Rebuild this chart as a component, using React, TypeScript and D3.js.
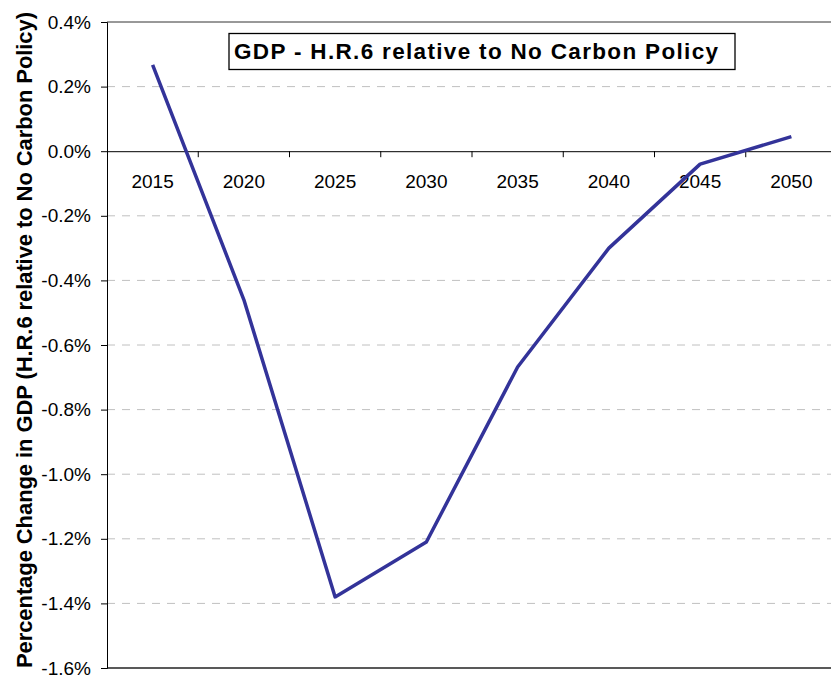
import React, { useEffect, useRef } from 'react';
import * as d3 from 'd3';

const years = ['2015', '2020', '2025', '2030', '2035', '2040', '2045', '2050'];
const gdpChange = [0.267, -0.46, -1.38, -1.21, -0.668, -0.3, -0.04, 0.045];
const yTicks = [0.4, 0.2, 0, -0.2, -0.4, -0.6, -0.8, -1.0, -1.2, -1.4, -1.6];

const W = 831;
const H = 676;
const margin = { top: 22, right: -6, bottom: 8, left: 107 };
const FONT = 'Arial, "Liberation Sans", sans-serif';

const App = () => {
  const ref = useRef<SVGSVGElement>(null);

  useEffect(() => {
    const svg = d3.select(ref.current);
    svg.selectAll('*').remove();

    const x = d3
      .scaleBand<string>()
      .domain(years)
      .range([margin.left, W - margin.right]);
    const y = d3
      .scaleLinear()
      .domain([-1.6, 0.4])
      .range([H - margin.bottom, margin.top]);

    svg.append('rect').attr('width', W).attr('height', H).attr('fill', '#fff');

    // dashed gridlines
    svg
      .append('g')
      .selectAll('line')
      .data(yTicks.filter((d) => d !== 0 && d !== 0.4 && d !== -1.6))
      .enter()
      .append('line')
      .attr('x1', margin.left)
      .attr('x2', W - margin.right)
      .attr('y1', (d) => y(d))
      .attr('y2', (d) => y(d))
      .attr('stroke', '#c0c0c0')
      .attr('stroke-width', 1)
      .attr('stroke-dasharray', '8,7');

    // top and bottom of the plot frame
    svg
      .append('line')
      .attr('x1', margin.left)
      .attr('x2', W - margin.right)
      .attr('y1', y(0.4))
      .attr('y2', y(0.4))
      .attr('stroke', '#333')
      .attr('stroke-width', 1);
    svg
      .append('line')
      .attr('x1', margin.left)
      .attr('x2', W - margin.right)
      .attr('y1', y(-1.6))
      .attr('y2', y(-1.6))
      .attr('stroke', '#222')
      .attr('stroke-width', 1.5);

    // y axis
    const yAxis = d3
      .axisLeft(y)
      .tickValues(yTicks)
      .tickSize(6)
      .tickPadding(10)
      .tickFormat((d) => `${(+d).toFixed(1)}%`);
    const gy = svg.append('g').attr('transform', `translate(${margin.left},0)`).call(yAxis);
    gy.select('.domain').attr('stroke', '#000');
    gy.selectAll('.tick line').attr('stroke', '#000');
    gy.selectAll('.tick text')
      .attr('font-family', FONT)
      .attr('font-size', 19)
      .attr('fill', '#000');

    // x axis sits at zero
    const xAxis = d3.axisBottom(x).tickSize(0).tickPadding(23);
    const gx = svg.append('g').attr('transform', `translate(0,${y(0)})`).call(xAxis);
    gx.select('.domain').attr('stroke', '#000');
    gx.selectAll('.tick text')
      .attr('font-family', FONT)
      .attr('font-size', 19)
      .attr('fill', '#000');
    gx.selectAll('.sep')
      .data(years.slice(1))
      .enter()
      .append('line')
      .attr('class', 'sep')
      .attr('x1', (d) => x(d) as number)
      .attr('x2', (d) => x(d) as number)
      .attr('y1', 0)
      .attr('y2', 6)
      .attr('stroke', '#000');

    // series
    const line = d3
      .line<number>()
      .x((_, i) => (x(years[i]) as number) + x.bandwidth() / 2)
      .y((d) => y(d));
    svg
      .append('path')
      .datum(gdpChange)
      .attr('d', line)
      .attr('fill', 'none')
      .attr('stroke', '#333399')
      .attr('stroke-width', 3.5)
      .attr('stroke-linejoin', 'round');

    // title box
    svg
      .append('rect')
      .attr('x', 229)
      .attr('y', 33.5)
      .attr('width', 506)
      .attr('height', 36)
      .attr('fill', '#fff')
      .attr('stroke', '#000')
      .attr('stroke-width', 1.3);
    svg
      .append('text')
      .attr('x', 476)
      .attr('y', 58.5)
      .attr('text-anchor', 'middle')
      .attr('font-family', FONT)
      .attr('font-weight', 'bold')
      .attr('font-size', 22.5)
      .attr('textLength', 484)
      .attr('lengthAdjust', 'spacing')
      .text('GDP - H.R.6 relative to No Carbon Policy');

    // y label
    svg
      .append('text')
      .attr('transform', `translate(32,340) rotate(-90)`)
      .attr('text-anchor', 'middle')
      .attr('font-family', FONT)
      .attr('font-weight', 'bold')
      .attr('font-size', 22)
      .attr('textLength', 656)
      .attr('lengthAdjust', 'spacing')
      .text('Percentage Change in GDP (H.R.6 relative to No Carbon Policy)');
  }, []);

  return (
    <svg
      ref={ref}
      width={W}
      height={H}
      style={{ position: 'absolute', left: 0, top: 0, display: 'block' }}
    />
  );
};

export default App;
